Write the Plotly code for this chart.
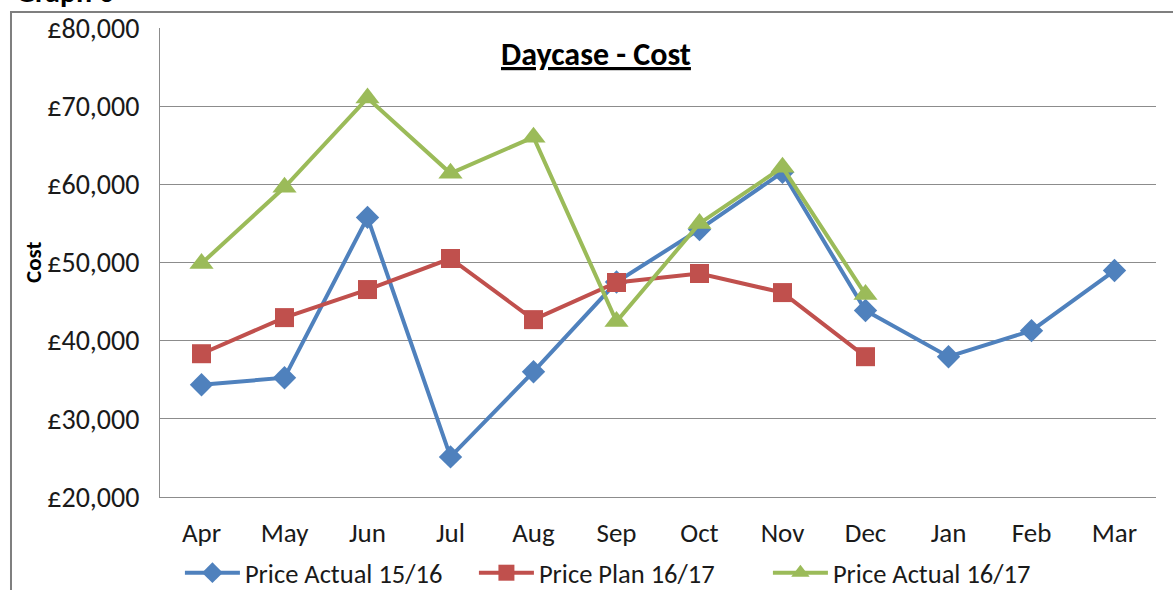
import plotly.graph_objects as go

# data
months = ["Apr", "May", "Jun", "Jul", "Aug", "Sep", "Oct", "Nov", "Dec", "Jan", "Feb", "Mar"]
actual_1516 = [34360, 35260, 55770, 25130, 36030, 47500, 54230, 61540, 43850, 37950, 41280, 48970]
plan_1617 = [38330, 42950, 46540, 50510, 42690, 47440, 48590, 46150, 37950]
actual_1617 = [49870, 59620, 71030, 61410, 66030, 42440, 55000, 62180, 45900]
y_ticks = [20000, 30000, 40000, 50000, 60000, 70000, 80000]

FONT = "Calibri, Carlito, Lato, sans-serif"
BLUE, RED, GREEN = "#4F81BD", "#C0504D", "#9BBB59"
GRID = "#8C8C8C"

fig = go.Figure()
fig.add_trace(go.Scatter(
    x=months, y=actual_1516, name="Price Actual 15/16", mode="lines+markers",
    line=dict(color=BLUE, width=4),
    marker=dict(symbol="diamond", size=18, color=BLUE),
))
fig.add_trace(go.Scatter(
    x=months[:len(plan_1617)], y=plan_1617, name="Price Plan 16/17", mode="lines+markers",
    line=dict(color=RED, width=4),
    marker=dict(symbol="square", size=19, color=RED),
))
fig.add_trace(go.Scatter(
    x=months[:len(actual_1617)], y=actual_1617, name="Price Actual 16/17", mode="lines+markers",
    line=dict(color=GREEN, width=4),
    marker=dict(symbol="triangle-up", size=21, color=GREEN),
))

fig.update_layout(
    width=1173, height=590,
    margin=dict(l=160, r=17, t=28, b=93, autoexpand=False),
    paper_bgcolor="white", plot_bgcolor="white",
    font=dict(family=FONT, size=28, color="#1a1a1a"),
    showlegend=True,
    legend=dict(orientation="h", x=0.02, y=-0.162, xanchor="left", yanchor="middle",
                font=dict(size=26.5), itemwidth=55, traceorder="normal",
                entrywidth=224, entrywidthmode="pixels"),
    xaxis=dict(
        type="category", range=[-0.5, 11.5], automargin=False,
        showgrid=False, showline=True, linecolor=GRID, linewidth=1,
        ticks="", ticklabelstandoff=12, tickfont=dict(size=27),
    ),
    yaxis=dict(
        range=[20000, 80000], tickvals=y_ticks, automargin=False,
        ticktext=[f"£{v:,}" for v in y_ticks],
        showgrid=True, gridcolor=GRID, gridwidth=1,
        showline=True, linecolor=GRID, linewidth=1, zeroline=False,
        ticks="", ticklabelstandoff=14, tickfont=dict(size=28),
    ),
)

# chart title, axis title and the graph label above the frame
fig.add_annotation(text="<b><u>Daycase - Cost</u></b>", xref="paper", yref="paper",
                   x=0.438, y=0.944, xanchor="center", yanchor="middle",
                   showarrow=False, font=dict(size=32, color="black"))
fig.add_annotation(text="<b>Cost</b>", xref="paper", yref="paper", x=-0.1275, y=0.499,
                   xanchor="center", yanchor="middle",
                   textangle=-90, showarrow=False, font=dict(size=23, color="black"))
fig.add_annotation(text="<b>Graph 6</b>", xref="paper", yref="paper", x=-0.147, y=1.035,
                   xanchor="left", yanchor="bottom", showarrow=False,
                   font=dict(size=30, color="black"))

# outer chart frame
fig.add_shape(type="rect", xref="paper", yref="paper", x0=-0.1496, x1=1.05,
              y0=-0.25, y1=1.0341, line=dict(color="#7F7F7F", width=2), layer="below")

# drop the page's default 8px body margin so the figure sits at the window corner
fig.write_html("out.html", config={"displayModeBar": False},
               post_script="document.body.style.margin='0';")
